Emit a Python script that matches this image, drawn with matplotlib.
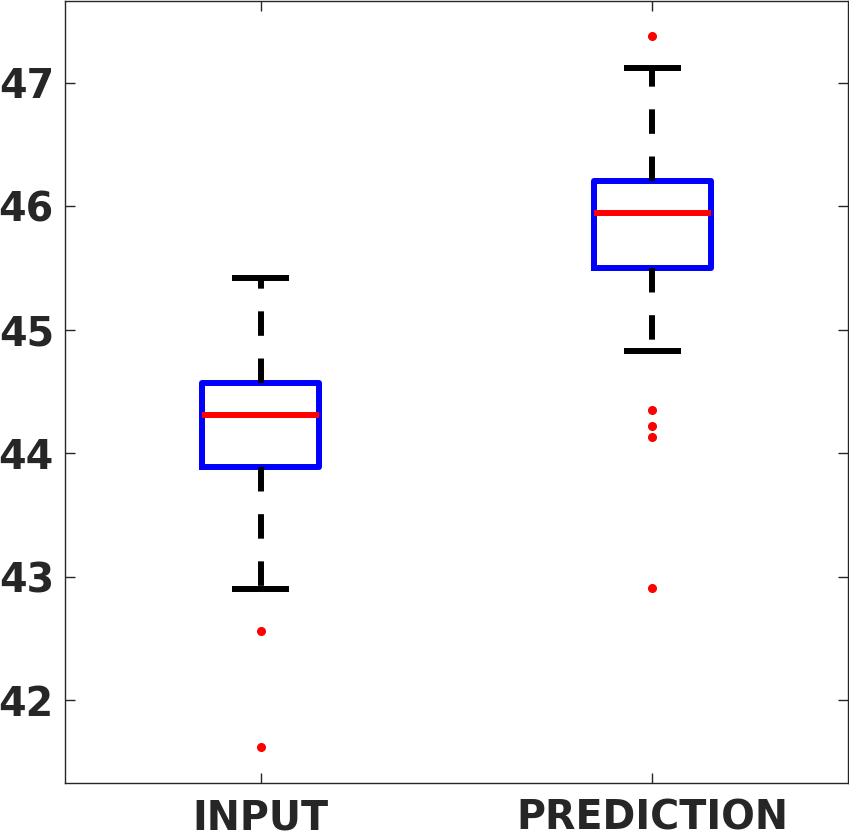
import matplotlib
matplotlib.use("Agg")
import matplotlib.pyplot as plt

# ---- data ----
categories = ["INPUT", "PREDICTION"]
medians = [44.31, 45.94]
q1 = [43.885, 45.50]
q3 = [44.565, 46.20]
whisker_low = [42.90, 44.83]
whisker_high = [45.42, 47.12]
outliers_input = [42.56, 41.62]
outliers_prediction = [47.38, 44.35, 44.22, 44.13, 42.91]
yticks = [42, 43, 44, 45, 46, 47]

fliers = [outliers_input, outliers_prediction]
stats = []
for i, name in enumerate(categories):
    stats.append(dict(label=name, med=medians[i], q1=q1[i], q3=q3[i],
                      whislo=whisker_low[i], whishi=whisker_high[i],
                      fliers=fliers[i]))

fig = plt.figure(figsize=(8.49, 8.32), dpi=100)
ax = fig.add_axes([65/849, 49/832, 783/849, 782/832])

lw = 4.3
ax.bxp(stats, positions=[1, 2], widths=0.3, capwidths=0.146,
       boxprops=dict(color="#0000ff", linewidth=lw),
       medianprops=dict(color="#ff0000", linewidth=lw, solid_capstyle="butt"),
       whiskerprops=dict(color="black", linewidth=lw,
                         linestyle=(0, (4.1, 3.8))),
       capprops=dict(color="black", linewidth=lw, solid_capstyle="butt"),
       flierprops=dict(marker="o", markerfacecolor="#ff0000",
                       markeredgecolor="#ff0000", markersize=5.5,
                       linestyle="none"))

ax.set_xlim(0.5, 2.5)
ax.set_ylim(41.33, 47.66)
ax.set_yticks(yticks)
ax.set_yticklabels([str(t) for t in yticks])
ax.set_xticks([1, 2])
ax.set_xticklabels(categories)

for s in ax.spines.values():
    s.set_color("#262626")
    s.set_linewidth(1.0)

ax.tick_params(direction="in", top=True, right=True, length=7, width=1.0,
               color="#262626", labelcolor="#262626", labelsize=28.5)
ax.tick_params(axis="y", pad=8)
ax.tick_params(axis="x", pad=11)
for lab in ax.get_xticklabels() + ax.get_yticklabels():
    lab.set_fontweight("bold")
    lab.set_fontfamily("DejaVu Sans")

fig.savefig("out.png", dpi=100)
